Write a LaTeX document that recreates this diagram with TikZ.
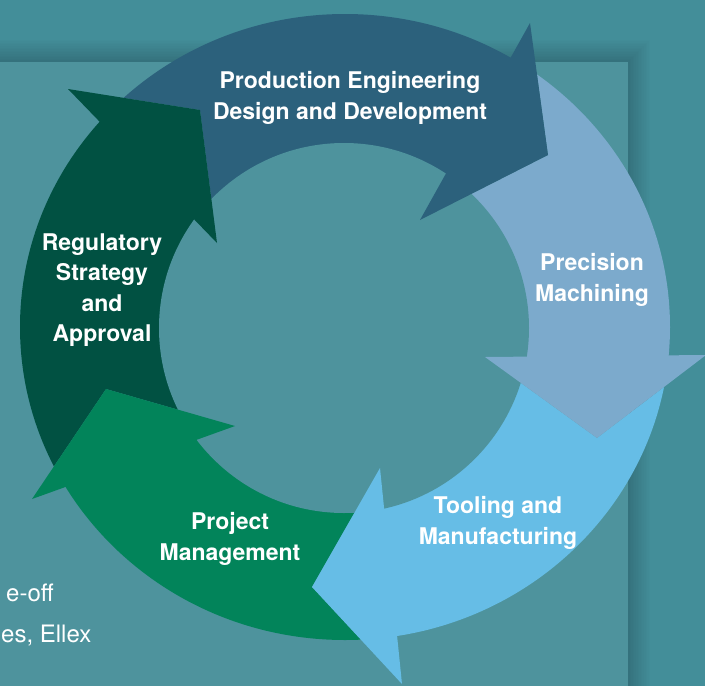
\documentclass[tikz,border=0pt]{standalone}
\usepackage{fontspec}
\setmainfont{TeX Gyre Heros}
\usetikzlibrary{calc}
\definecolor{bgout}{RGB}{67,142,153}
\definecolor{bgin}{RGB}{78,147,157}
\definecolor{cprod}{RGB}{44,97,124}
\definecolor{cprec}{RGB}{124,170,204}
\definecolor{ctool}{RGB}{102,189,230}
\definecolor{cpm}{RGB}{2,132,90}
\definecolor{creg}{RGB}{1,81,66}
\tikzset{
  lab/.style={text=white, font=\bfseries\fontsize{23}{30.5}\selectfont, align=center, inner sep=0pt},
  side/.style={text=white, font=\fontsize{24}{41}\selectfont, inner sep=0pt, anchor=base west}
}
\begin{document}
\begin{tikzpicture}[x=1pt,y=-1pt]
\useasboundingbox (0,0) rectangle (705,686);
\fill[bgout] (0,0) rectangle (705,686);
\foreach \i in {1,...,14} {
  \fill[black,opacity=0.012] (-20,{62-1.6*\i}) rectangle ({628+1.6*\i},706);
}
\fill[bgin] (0,62) rectangle (628,686);

\node[side] (t1) at (6,601) {e-off};
\node[side] (t2) at (1,642) {es, Ellex};

\coordinate (C) at (344,328);
% heads: outer barb, tip, inner barb
\coordinate (rob) at (68,89);   \coordinate (rtp) at (200,110); \coordinate (rib) at (217,243);
\coordinate (pob) at (530,23);  \coordinate (ptp) at (548,155); \coordinate (pib) at (420,220);
\coordinate (cob) at (706,355); \coordinate (ctp) at (597,438); \coordinate (cib) at (485,357);
\coordinate (tob) at (402,684); \coordinate (ttp) at (312,587); \coordinate (tib) at (380,468);
\coordinate (mob) at (32,499);  \coordinate (mtp) at (106,389); \coordinate (mib) at (235,426);

\begin{scope}
\clip (345,327) ellipse [x radius=325pt, y radius=313pt];
\fill[cprod] (rob) -- (rtp) -- (rib) -- (C) -- ($(pib)!0.05!(ptp)$) -- ($(pob)!0.05!(ptp)$) -- ($(C)!1.6!(pob)$)
  -- ($(C)+(275:520)$) -- ($(C)+(250:520)$) -- ($(C)!1.6!(rob)$) -- cycle;
\fill[cprec] (pob) -- (ptp) -- (pib) -- (C) -- ($(cib)!0.05!(ctp)$) -- ($(cob)!0.05!(ctp)$) -- ($(C)!1.6!(cob)$)
  -- ($(C)+(330:520)$) -- ($(C)!1.6!(pob)$) -- cycle;
\fill[ctool] (cob) -- (ctp) -- (cib) -- (C) -- ($(tib)!0.05!(ttp)$) -- ($(tob)!0.05!(ttp)$) -- ($(C)!1.6!(tob)$)
  -- ($(C)+(55:520)$) -- ($(C)+(30:520)$) -- ($(C)!1.6!(cob)$) -- cycle;
\fill[cpm] (tob) -- (ttp) -- (tib) -- (C) -- ($(mib)!0.05!(mtp)$) -- ($(mob)!0.05!(mtp)$) -- ($(C)!1.6!(mob)$)
  -- ($(C)+(130:520)$) -- ($(C)+(105:520)$) -- ($(C)!1.6!(tob)$) -- cycle;
\fill[creg] (mob) -- (mtp) -- (mib) -- (C) -- ($(rib)!0.05!(rtp)$) -- ($(rob)!0.05!(rtp)$) -- ($(C)!1.6!(rob)$)
  -- ($(C)+(200:520)$) -- ($(C)+(175:520)$) -- ($(C)!1.6!(mob)$) -- cycle;
\end{scope}
\fill[bgin] (C) circle [radius=185pt];
\fill[creg] (rob) -- (rtp) -- (rib) -- cycle;
\fill[cprod] (pob) -- (ptp) -- (pib) -- cycle;
\fill[cprec] (cob) -- (ctp) -- (cib) -- cycle;
\fill[ctool] (tob) -- (ttp) -- (tib) -- cycle;
\fill[cpm] (mob) -- (mtp) -- (mib) -- cycle;

\node[lab] (lprod) at (350,98) {Production Engineering\\Design and Development};
\node[lab] (lprec) at (592,280) {Precision\\Machining};
\node[lab] (ltool) at (498,523) {Tooling and\\Manufacturing};
\node[lab] (lpm) at (230,539) {Project\\Management};
\node[lab] (lreg) at (102,290) {Regulatory\\Strategy\\and\\Approval};
\end{tikzpicture}
\end{document}
